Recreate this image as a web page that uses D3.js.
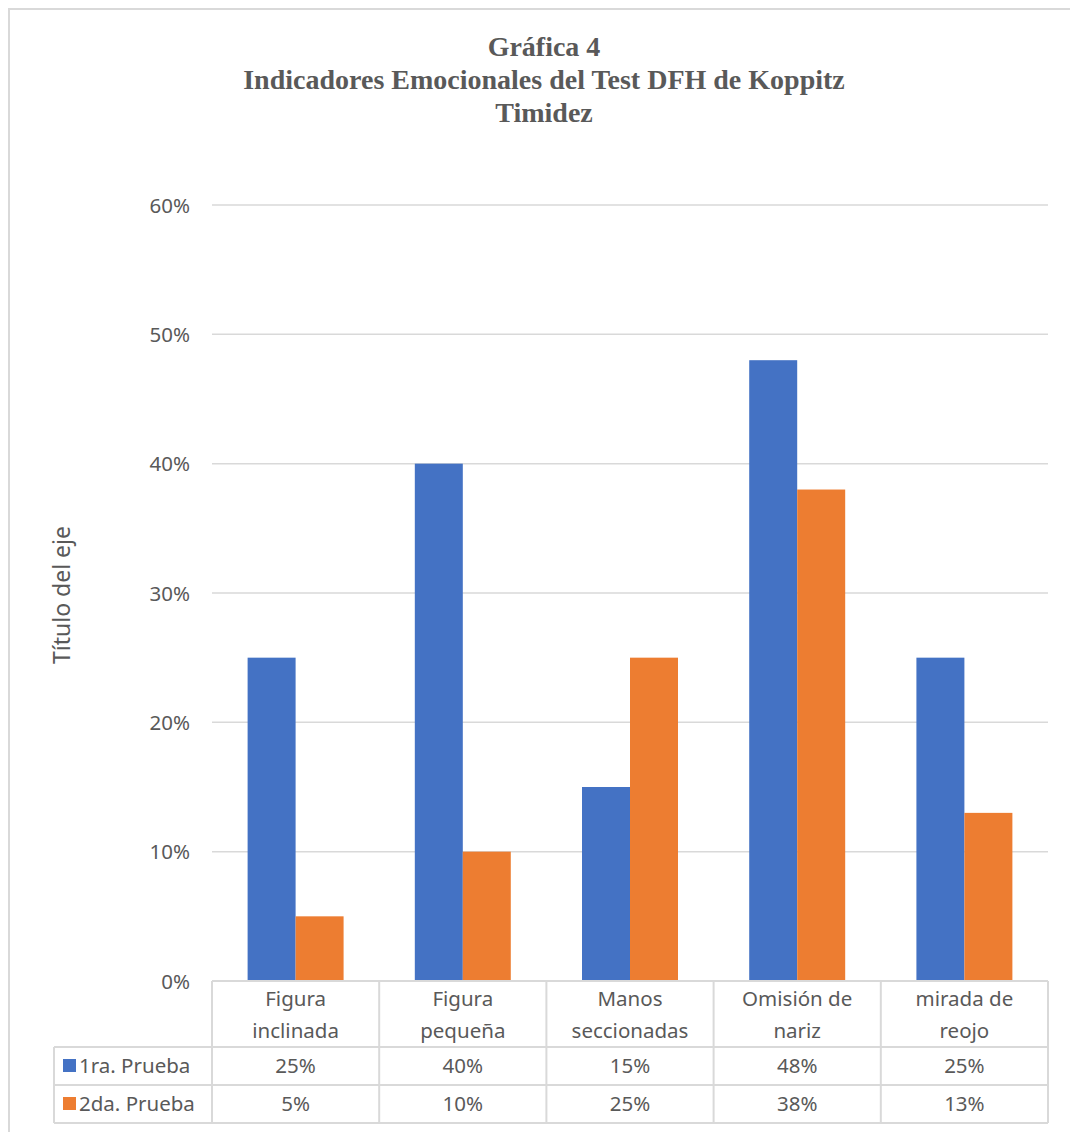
<!DOCTYPE html>
<html>
<head>
<meta charset="utf-8">
<script src="https://cdn.jsdelivr.net/npm/d3@7"></script>
<style>
  body { margin: 0; background: #fff; }
  text { fill: #595959; }
</style>
</head>
<body>
<div id="chart"></div>
<script>
'use strict';
var titleLines = ['Gráfica 4', 'Indicadores Emocionales del Test DFH de Koppitz', 'Timidez'];
var categories = ['Figura inclinada', 'Figura pequeña', 'Manos seccionadas', 'Omisión de nariz', 'mirada de reojo'];
var categoryLines = [['Figura', 'inclinada'], ['Figura', 'pequeña'], ['Manos', 'seccionadas'], ['Omisión de', 'nariz'], ['mirada de', 'reojo']];
var seriesNames = ['1ra. Prueba', '2da. Prueba'];
var prueba1 = [25, 40, 15, 48, 25];
var prueba2 = [5, 10, 25, 38, 13];
var yTicks = [0, 10, 20, 30, 40, 50, 60];
var colors = ['#4472C4', '#ED7D31'];

var width = 1070,
    height = 1132;
var plot = {left: 212, right: 1048, top: 205, bottom: 981};
var tableLeft = 54,
    rowTops = [981, 1047, 1085, 1123];
var grid = '#d9d9d9';
var sans = '"Noto Sans", "Open Sans", sans-serif';
var fs = '20.5px';

var svg = d3.select('#chart').append('svg')
    .attr('width', width)
    .attr('height', height);

// outer frame (runs off right/bottom like the source)
svg.append('rect')
    .attr('x', 9).attr('y', 9)
    .attr('width', width + 10).attr('height', height + 10)
    .attr('fill', 'none').attr('stroke', grid).attr('stroke-width', 2);

// title
svg.append('g').selectAll('text').data(titleLines).enter().append('text')
    .attr('x', 544)
    .attr('y', function (d, i) { return 56 + i * 33; })
    .attr('text-anchor', 'middle')
    .style('font-family', '"Liberation Serif", "Times New Roman", serif')
    .style('font-weight', 'bold')
    .style('font-size', '28px')
    .text(function (d) { return d; });

var y = d3.scaleLinear().domain([0, 60]).range([plot.bottom, plot.top]);
var x0 = d3.scaleBand().domain(categories).range([plot.left, plot.right]).padding(0);
var x1 = d3.scaleBand().domain(seriesNames).range([0, x0.bandwidth()]).paddingInner(0).paddingOuter(0.742);

// gridlines
svg.append('g').selectAll('line').data(yTicks.slice(1)).enter().append('line')
    .attr('x1', plot.left).attr('x2', plot.right)
    .attr('y1', function (d) { return y(d); })
    .attr('y2', function (d) { return y(d); })
    .attr('stroke', grid).attr('stroke-width', 1.5);

// y tick labels
svg.append('g').selectAll('text').data(yTicks).enter().append('text')
    .attr('x', 190)
    .attr('y', function (d) { return y(d) + 7.5; })
    .attr('text-anchor', 'end')
    .style('font-family', sans)
    .style('font-size', fs)
    .text(function (d) { return d + '%'; });

// axis title
svg.append('text')
    .attr('transform', 'translate(70,595) rotate(-90)')
    .attr('text-anchor', 'middle')
    .style('font-family', sans)
    .style('font-size', '23px')
    .text('Título del eje');

// bars
var series = [prueba1, prueba2];
var groups = svg.append('g').selectAll('g.data-item').data(series).enter().append('g')
    .attr('class', 'data-item')
    .attr('fill', function (d, i) { return colors[i]; });
groups.each(function (vals, si) {
    d3.select(this).selectAll('rect').data(vals).enter().append('rect')
        .attr('x', function (d, i) { return x0(categories[i]) + x1(seriesNames[si]); })
        .attr('width', x1.bandwidth())
        .attr('y', function (d) { return y(d); })
        .attr('height', function (d) { return y(0) - y(d); });
});

// data table lines
var tbl = svg.append('g').attr('stroke', grid).attr('stroke-width', 2);
tbl.append('line').attr('x1', plot.left).attr('x2', plot.right)
    .attr('y1', rowTops[0]).attr('y2', rowTops[0]);
rowTops.slice(1).forEach(function (ry) {
    tbl.append('line').attr('x1', tableLeft).attr('x2', plot.right).attr('y1', ry).attr('y2', ry);
});
tbl.append('line').attr('x1', tableLeft).attr('x2', tableLeft).attr('y1', rowTops[1]).attr('y2', rowTops[3]);
var bounds = categories.map(function (c) { return x0(c); }).concat([plot.right]);
bounds.forEach(function (bx) {
    tbl.append('line').attr('x1', bx).attr('x2', bx).attr('y1', rowTops[0]).attr('y2', rowTops[3]);
});

// category labels
var catG = svg.append('g').selectAll('g').data(categoryLines).enter().append('g');
catG.each(function (lines, i) {
    d3.select(this).selectAll('text').data(lines).enter().append('text')
        .attr('x', x0(categories[i]) + x0.bandwidth() / 2)
        .attr('y', function (d, j) { return 1006 + j * 31.5; })
        .attr('text-anchor', 'middle')
        .style('font-family', sans)
        .style('font-size', fs)
        .text(function (d) { return d; });
});

// table rows
series.forEach(function (vals, si) {
    var top = rowTops[si + 1];
    svg.append('rect')
        .attr('x', 63).attr('y', top + 12)
        .attr('width', 13).attr('height', 13)
        .attr('fill', colors[si]);
    svg.append('text')
        .attr('x', 79).attr('y', top + 26)
        .style('font-family', sans)
        .style('font-size', fs)
        .text(seriesNames[si]);
    svg.append('g').selectAll('text').data(vals).enter().append('text')
        .attr('x', function (d, i) { return x0(categories[i]) + x0.bandwidth() / 2; })
        .attr('y', top + 26)
        .attr('text-anchor', 'middle')
        .style('font-family', sans)
        .style('font-size', fs)
        .text(function (d) { return d + '%'; });
});
</script>
</body>
</html>
